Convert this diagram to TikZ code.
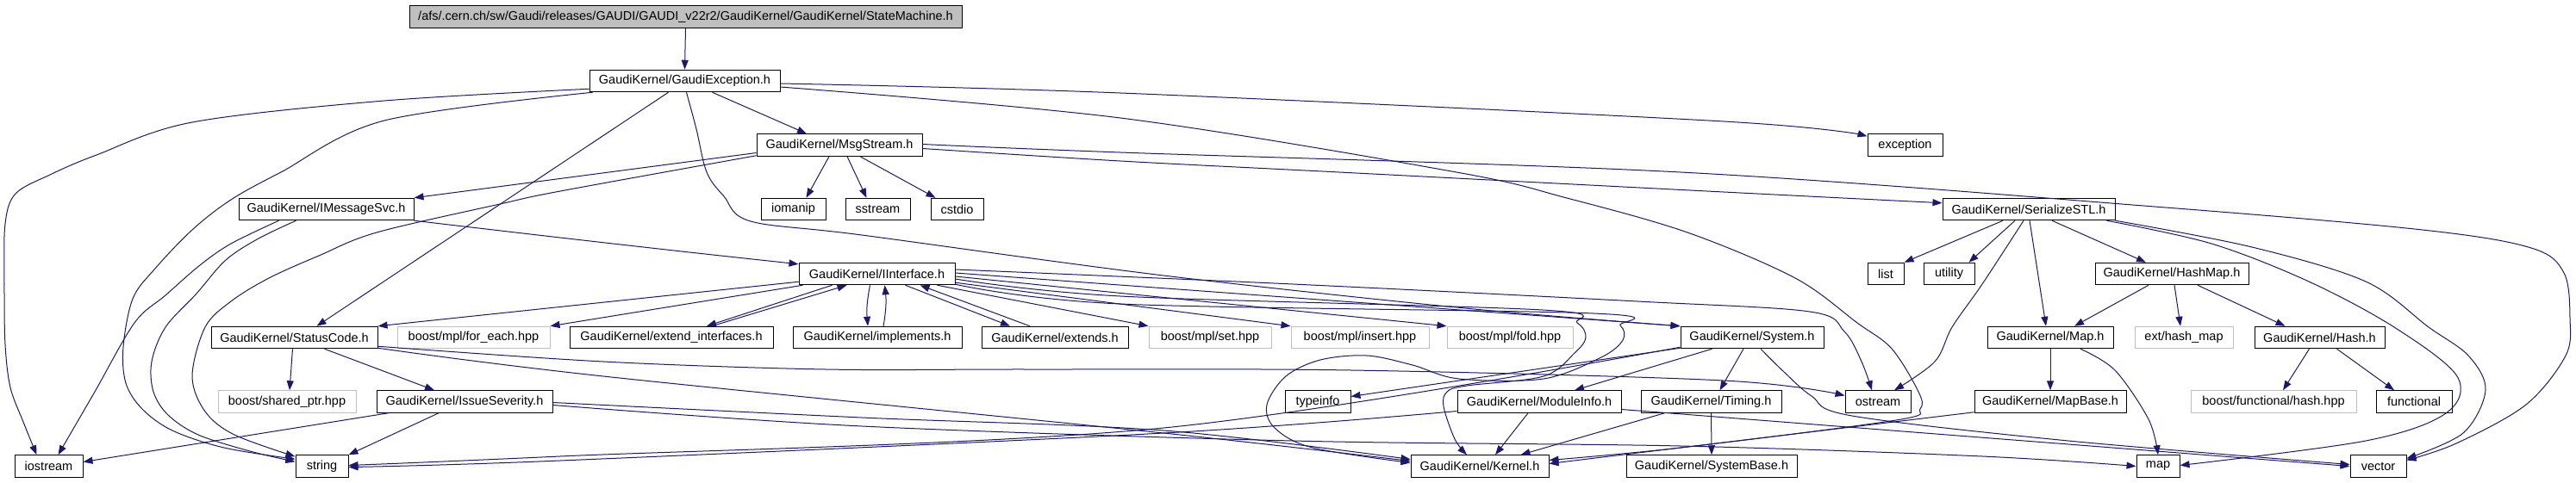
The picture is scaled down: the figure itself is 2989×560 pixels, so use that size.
\documentclass[tikz,border=0pt]{standalone}
\usepackage{fontspec}
\setmainfont{Liberation Sans}
\usetikzlibrary{arrows.meta,calc}
\definecolor{edgec}{HTML}{191970}
\definecolor{gfill}{HTML}{BFBFBF}
\newcommand\fs{\fontsize{14.5}{17}\selectfont}
\begin{document}
\begin{tikzpicture}[x=1pt,y=-1pt,
  box/.style={draw=black,line width=1pt,minimum height=25.5pt,inner sep=0pt,font=\fs,anchor=center},
  gbox/.style={box,draw=gfill},
  e/.style={draw=edgec,line width=1pt,-{Triangle[length=11pt,width=8pt]}},
  sm/.style={smooth,tension=0.55}]
\useasboundingbox (0,0) rectangle (2989,560);
% row 0-1
\node[box,fill=gfill,minimum width=641pt] (top) at (795.5,19.5) {/afs/.cern.ch/sw/Gaudi/releases/GAUDI/GAUDI\_v22r2/GaudiKernel/GaudiKernel/StateMachine.h};
\node[box,minimum width=221pt] (GE) at (794.5,94) {GaudiKernel/GaudiException.h};
% row 2
\node[box,minimum width=192pt] (MS) at (974,168.5) {GaudiKernel/MsgStream.h};
\node[box,minimum width=87pt] (exc) at (2210.5,168.5) {exception};
% row 3
\node[box,minimum width=203pt] (IMS) at (378.5,243) {GaudiKernel/IMessageSvc.h};
\node[box,minimum width=75pt] (iomanip) at (920.5,243) {iomanip};
\node[box,minimum width=75pt] (sstream) at (1018.5,243) {sstream};
\node[box,minimum width=61pt] (cstdio) at (1110.5,243) {cstdio};
\node[box,minimum width=200pt] (SSTL) at (2354,243) {GaudiKernel/SerializeSTL.h};
% row 4
\node[box,minimum width=181pt] (II) at (1017.5,318) {GaudiKernel/IInterface.h};
\node[box,minimum width=42pt] (list) at (2188,318) {list};
\node[box,minimum width=59pt] (utility) at (2261.5,318) {utility};
\node[box,minimum width=178pt] (HM) at (2520,318) {GaudiKernel/HashMap.h};
% row 5
\node[box,minimum width=193pt] (SC) at (341.5,392) {GaudiKernel/StatusCode.h};
\node[gbox,minimum width=177pt] (foreach) at (549.5,392) {boost/mpl/for\_each.hpp};
\node[box,minimum width=236pt] (ext) at (779,392) {GaudiKernel/extend\_interfaces.h};
\node[box,minimum width=196pt] (impl) at (1018,392) {GaudiKernel/implements.h};
\node[box,minimum width=170pt] (extends) at (1224,392) {GaudiKernel/extends.h};
\node[gbox,minimum width=142pt] (set) at (1404,392) {boost/mpl/set.hpp};
\node[gbox,minimum width=160pt] (insert) at (1578,392) {boost/mpl/insert.hpp};
\node[gbox,minimum width=146pt] (fold) at (1752,392) {boost/mpl/fold.hpp};
\node[box,minimum width=166pt] (Sys) at (2033,392) {GaudiKernel/System.h};
\node[box,minimum width=146pt] (Map) at (2379,392) {GaudiKernel/Map.h};
\node[gbox,minimum width=114pt] (hashmap) at (2534,392) {ext/hash\_map};
\node[box,minimum width=151pt] (Hash) at (2691.5,392) {GaudiKernel/Hash.h};
% row 6
\node[gbox,minimum width=160pt] (shared) at (333,466.5) {boost/shared\_ptr.hpp};
\node[box,minimum width=204pt] (IS) at (539,466.5) {GaudiKernel/IssueSeverity.h};
\node[box,minimum width=76pt] (typeinfo) at (1529,466.5) {typeinfo};
\node[box,minimum width=190pt] (MI) at (1786,466.5) {GaudiKernel/ModuleInfo.h};
\node[box,minimum width=163pt] (Tim) at (1985.5,466.5) {GaudiKernel/Timing.h};
\node[box,minimum width=76pt] (ostream) at (2179,466.5) {ostream};
\node[box,minimum width=176pt] (MB) at (2379,466.5) {GaudiKernel/MapBase.h};
\node[gbox,minimum width=192pt] (fhash) at (2638,466.5) {boost/functional/hash.hpp};
\node[box,minimum width=88pt] (functional) at (2801,466.5) {functional};
% row 7
\node[box,minimum width=79pt] (iostream) at (56.5,541.5) {iostream};
\node[box,minimum width=61pt] (string) at (373.5,541.5) {string};
\node[box,minimum width=160pt] (Kernel) at (1717,541.5) {GaudiKernel/Kernel.h};
\node[box,minimum width=198pt] (SB) at (1986,541.5) {GaudiKernel/SystemBase.h};
\node[box,minimum width=50pt] (map) at (2504,541.5) {map};
\node[box,minimum width=65pt] (vector) at (2759.5,541.5) {vector};

% ---- edges ----
\draw[e] (top.south) -- (GE.north);
% GaudiException
\draw[e] plot[sm] coordinates {($(GE.south west)+(0,-4)$) (446,117) (223,142) (112,180) (58,203) (18,225) (6,260) (5,330) (6,400) (12,450) (27,490) ($(iostream.north)+(-14,0)$)};
\draw[e] plot[sm] coordinates {($(GE.south west)+(4,0)$) (446,140) (326,200) (268,232) (223,267) (179,313) (154,347) (143,403) (146,445) (165,475) (200,500) (260,520) ($(string.north west)+(0,5)$)};
\draw[e] plot[sm] coordinates {($(GE.east)+(0,3)$) (1300,108) (2000,141) ($(exc.north west)+(0,3)$)};
\draw[e] plot[sm] coordinates {($(GE.east)+(0,7)$) (1300,137) (1690,200) (1818,230) (1958,270) (2083,323) (2155,375) (2195,405) (2226,455) (2228,475) (2200,488) (1950,520) ($(Kernel.east)+(0,-7)$)};
\draw[e] ($(GE.south)+(-19,0)$) -- ($(SC.north)+(26,0)$);
\draw[e] ($(GE.south)+(32,0)$) -- ($(MS.north)+(-38,0)$);
\draw[e] plot[sm] coordinates {($(GE.south)+(2,0)$) (808,150) (820,200) (840,228) (871,257) (1000,273) (1350,320) (1700,358) (Sys.north west)};
% MsgStream
\draw[e] ($(MS.west)+(0,9)$) -- (IMS.north east);
\draw[e] plot[sm] coordinates {($(MS.east)+(0,4)$) (1300,187) (1554,200) (2000,223) ($(SSTL.north west)+(0,6)$)};
\draw[e] plot[sm] coordinates {($(MS.east)+(0,-1)$) (1300,177) (1950,200) (2500,240) (2811,267) (2937,288) (2975,317) (2982,370) (2977,413) (2931,470) (2850,515) ($(vector.east)+(0,-7)$)};
\draw[e] ($(MS.south)+(24,0)$) -- ($(cstdio.north)+(-25,0)$);
\draw[e] ($(MS.south)+(9,0)$) -- ($(sstream.north)+(-13,0)$);
\draw[e] ($(MS.south)+(-12,0)$) -- ($(iomanip.north)+(15,0)$);
\draw[e] plot[sm] coordinates {($(MS.south west)+(0,-1)$) (650,222) (580,237) (437,270) (370,297) (312,323) (268,350) (238,380) (223,437) (238,478) (272,505) ($(string.north west)+(0,2)$)};
% IMessageSvc
\draw[e] plot[sm] coordinates {(IMS.south east) (650,276) (800,293) ($(II.north west)+(0,2)$)};
\draw[e] plot[sm] coordinates {($(IMS.south)+(-55,0)$) (268,283) (232,308) (192,343) (156,375) (110,455) ($(iostream.north)+(11,0)$)};
\draw[e] plot[sm] coordinates {($(IMS.south)+(-35,0)$) (300,277) (262,302) (228,341) (192,380) (176,420) (178,455) (195,482) (230,505) (290,524) ($(string.north west)+(0,8)$)};
% IInterface
\draw[e] ($(II.south west)+(0,-4)$) -- (SC.north east);
\draw[e] ($(II.south west)+(5,0)$) -- (foreach.north east);
\draw[e] ($(II.south)+(-52,0)$) -- ($(ext.north)+(41,0)$);
\draw[e] ($(ext.north)+(47,0)$) -- ($(II.south)+(-35,0)$);
\draw[e] ($(II.south)+(-8,0)$) to[bend right=8] ($(impl.north)+(-11,0)$);
\draw[e] ($(impl.north)+(7,0)$) to[bend right=8] ($(II.south)+(9,0)$);
\draw[e] ($(II.south)+(33,0)$) -- ($(extends.north)+(-52,0)$);
\draw[e] ($(extends.north)+(-29,0)$) -- ($(II.south)+(50,0)$);
\draw[e] ($(II.south)+(70,0)$) -- (set.north west);
\draw[e] ($(II.south east)+(0,-3)$) -- (insert.north west);
\draw[e] ($(II.east)+(0,3)$) -- (fold.north west);
\draw[e] ($(II.east)+(0,-1)$) -- (Sys.north west);
\draw[e] plot[sm] coordinates {($(II.east)+(0,-5)$) (1500,330) (1900,350) (2100,362) (2140,385) (2160,420) ($(ostream.north)+(-7,0)$)};
\draw[e] plot[sm] coordinates {($(II.east)+(0,6)$) (1300,344) (1790,360) (1830,375) (1840,392) (1827,410) (1791,437) (1702,448) (1679,455) (1675,472) (1688,510) ($(Kernel.north)+(-15,0)$)};
\draw[e] plot[sm] coordinates {($(II.south east)+(0,-1)$) (1300,353) (1849,364) (1880,378) (1883,395) (1858,415) (1791,440) (1693,440) (1639,424) (1586,413) (1532,418) (1492,437) (1470,470) (1479,497) (1523,520) ($(Kernel.west)+(0,-4)$)};
% StatusCode
\draw[e] plot[sm] coordinates {($(SC.south east)+(0,-1)$) (700,437) (1350,503) ($(Kernel.west)+(0,-6)$)};
\draw[e] ($(SC.south)+(35,0)$) -- ($(IS.north)+(-35,0)$);
\draw[e] ($(SC.south)+(-2,0)$) -- ($(shared.north)+(3,0)$);
\draw[e] plot[sm] coordinates {($(SC.south east)+(0,-3)$) (700,420) (958,429) (1195,429) (1568,430) (2000,442) ($(ostream.west)+(0,-7)$)};
% IssueSeverity
\draw[e] plot[sm] coordinates {($(IS.east)+(0,1)$) (1000,485) (1350,500) ($(Kernel.west)+(0,-8)$)};
\draw[e] plot[sm] coordinates {($(IS.east)+(0,4)$) (1000,495) (1500,512) (1950,518) (2300,530) (map.west)};
\draw[e] ($(IS.south)+(-30,0)$) -- (string.north east);
\draw[e] ($(IS.south west)+(14,0)$) -- ($(iostream.east)+(0,-5)$);
% System
\draw[e] ($(Sys.south west)+(37,0)$) -- ($(MI.north)+(41,0)$);
\draw[e] ($(Sys.south)+(-10,0)$) -- ($(Tim.north)+(10,0)$);
\draw[e] plot[sm] coordinates {($(Sys.south west)+(0,-2)$) (1350,497) (650,530) ($(string.east)+(0,-1)$)};
\draw[e] plot[sm] coordinates {($(Sys.south)+(10,0)$) (2070,432) (2102,460) (2149,483) (2400,512) ($(vector.west)+(0,-2)$)};
\draw[e] ($(Sys.south west)+(0,-1)$) -- ($(typeinfo.east)+(0,-6)$);
% ModuleInfo, Timing
\draw[e] ($(MI.south)+(-13,0)$) -- ($(Kernel.north)+(18,0)$);
\draw[e] plot[sm] coordinates {($(MI.west)+(0,11)$) (1350,503) (650,535) ($(string.east)+(0,1)$)};
\draw[e] ($(MI.east)+(0,9)$) -- (vector.west);
\draw[e] ($(Tim.south west)+(28,0)$) -- ($(Kernel.north east)+(-33,0)$);
\draw[e] (Tim.south) -- (SB.north);
% SerializeSTL
\draw[e] plot[sm] coordinates {($(SSTL.south)+(-6,0)$) (2300,330) (2265,380) (2245,420) ($(ostream.north)+(19,0)$)};
\draw[e] ($(SSTL.south)+(-30,0)$) -- (list.north east);
\draw[e] ($(SSTL.south)+(-16,0)$) -- ($(utility.north)+(23,0)$);
\draw[e] ($(SSTL.south)+(1,0)$) -- ($(Map.north)+(-5,0)$);
\draw[e] ($(SSTL.south)+(27,0)$) -- ($(HM.north)+(-30,0)$);
\draw[e] plot[sm] coordinates {($(SSTL.south east)+(-10,0)$) (2566,283) (2679,327) (2778,380) (2851,437) (2838,480) (2745,512) ($(map.east)+(0,-1)$)};
\draw[e] plot[sm] coordinates {(SSTL.south east) (2613,287) (2745,327) (2818,380) (2864,413) (2884,453) (2858,503) ($(vector.east)+(0,-9)$)};
% HashMap, Map, Hash, MapBase
\draw[e] ($(HM.south)+(-27,0)$) -- ($(Map.north)+(28,0)$);
\draw[e] ($(HM.south)+(3,0)$) -- ($(hashmap.north)+(-4,0)$);
\draw[e] ($(HM.south)+(30,0)$) -- ($(Hash.north)+(-40,0)$);
\draw[e] (Map.south) -- (MB.north);
\draw[e] plot[sm] coordinates {($(Map.south)+(35,0)$) (2454,430) (2493,487) (map.north)};
\draw[e] ($(Hash.south)+(-12,0)$) -- ($(fhash.north)+(11,0)$);
\draw[e] ($(Hash.south)+(20,0)$) -- ($(functional.north)+(-23,0)$);
\draw[e] plot[sm] coordinates {($(MB.south west)+(0,-1)$) (1950,520) ($(Kernel.east)+(0,-3)$)};
\end{tikzpicture}
\end{document}
